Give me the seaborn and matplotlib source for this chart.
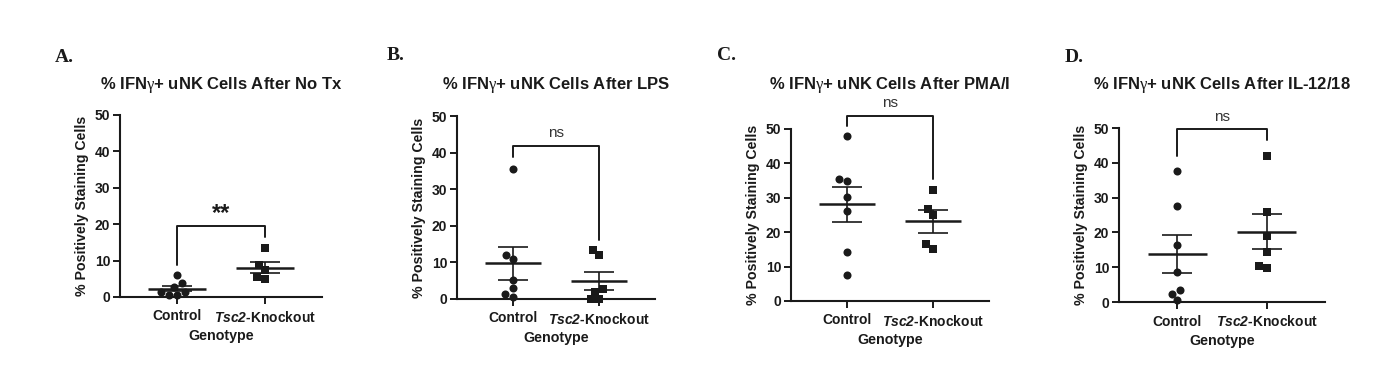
import numpy as np
import pandas as pd
import matplotlib
matplotlib.use("Agg")
import matplotlib.pyplot as plt
import seaborn as sns

# ---------------- data ----------------
categories = ["Control", "Tsc2-Knockout"]
tick_labels = ["Control", r"$\mathrm{Tsc2}$-Knockout"]
panel_letters = ["A.", "B.", "C.", "D."]
titles = [
    r"% IFN$\mathsf{\gamma}$+ uNK Cells After No Tx",
    r"% IFN$\mathsf{\gamma}$+ uNK Cells After LPS",
    r"% IFN$\mathsf{\gamma}$+ uNK Cells After PMA/I",
    r"% IFN$\mathsf{\gamma}$+ uNK Cells After IL-12/18",
]

a_control = [0.6, 6.0, 2.7, 1.3, 3.8, 1.3, 0.6]
a_knockout = [13.5, 8.9, 7.3, 4.9, 5.5]
b_control = [35.4, 11.9, 10.8, 5.2, 3.0, 0.5, 1.4]
b_knockout = [13.3, 11.9, 0.0, 1.9, 2.6, 0.0]
c_control = [47.9, 35.0, 35.5, 30.2, 26.1, 14.2, 7.7]
c_knockout = [32.4, 26.8, 25.0, 15.1, 16.5]
d_control = [37.7, 27.6, 16.5, 8.5, 3.4, 2.4, 0.5]
d_knockout = [42.0, 26.0, 18.9, 14.4, 9.7, 10.4]

# significance brackets: top, left leg end, right leg end, label
bracket_top = [19.5, 41.8, 53.9, 49.6]
bracket_left = [8.8, 38.9, 51.0, 41.9]
bracket_right = [16.5, 16.0, 35.4, 46.5]
bracket_label = ["**", "ns", "ns", "ns"]

y_ticks = [0, 10, 20, 30, 40, 50]

controls = [a_control, b_control, c_control, d_control]
knockouts = [a_knockout, b_knockout, c_knockout, d_knockout]

# ---------------- style ----------------
sns.set_theme(style="ticks")
plt.rcParams["font.family"] = ["Liberation Sans", "DejaVu Sans"]
plt.rcParams["mathtext.fontset"] = "custom"
plt.rcParams["mathtext.rm"] = "Liberation Sans:italic:bold"
plt.rcParams["mathtext.it"] = "Liberation Sans:italic:bold"
plt.rcParams["mathtext.sf"] = "Liberation Serif"
plt.rcParams["mathtext.bf"] = "Liberation Sans:bold"

W, H = 1379, 382
fig = plt.figure(figsize=(W / 100, H / 100), dpi=100)

# axes boxes in pixels: left, right, top, bottom
boxes = [(120, 322, 115, 297), (457, 655, 116, 299),
         (791, 989, 129, 301), (1119, 1325, 128, 302)]
letter_pos = [(55, 58), (387, 56), (717, 56), (1065, 57)]

ink = "#1a1a1a"

for i in range(4):
    l, r, t, b = boxes[i]
    ax = fig.add_axes([l / W, 1 - b / H, (r - l) / W, (b - t) / H])
    df = pd.DataFrame({
        "Genotype": [categories[0]] * len(controls[i]) + [categories[1]] * len(knockouts[i]),
        "Value": list(controls[i]) + list(knockouts[i]),
    })
    for cat, mk in zip(categories, ["o", "s"]):
        sub = df[df["Genotype"] == cat]
        sns.swarmplot(data=sub, x="Genotype", y="Value", order=categories,
                      marker=mk, color=ink, size=5.8, ax=ax, clip_on=False,
                      zorder=3, linewidth=0)
    # mean +/- SEM
    for xi, vals in enumerate([controls[i], knockouts[i]]):
        v = np.asarray(vals, dtype=float)
        m = v.mean()
        se = v.std(ddof=1) / np.sqrt(len(v))
        ax.errorbar([xi], [m], yerr=[se], fmt="none", ecolor=ink,
                    elinewidth=1.2, capsize=10.5, capthick=1.2, zorder=4)
        ax.hlines(m, xi - 0.33, xi + 0.33, colors=ink, linewidth=1.8, zorder=4)
    # significance bracket
    ax.plot([0, 0, 1, 1], [bracket_left[i], bracket_top[i], bracket_top[i], bracket_right[i]],
            color=ink, linewidth=1.4, clip_on=False, zorder=2)
    lab = bracket_label[i]
    if lab == "**":
        ax.annotate(lab, (0.5, bracket_top[i]), xytext=(0, 1), textcoords="offset points",
                    ha="center", va="bottom", fontsize=17, fontweight="bold", color=ink,
                    annotation_clip=False)
    else:
        ax.annotate(lab, (0.5, bracket_top[i]), xytext=(0, 4), textcoords="offset points",
                    ha="center", va="bottom", fontsize=11, color="#333333",
                    annotation_clip=False)

    ax.set_xlim(-0.65, 1.65)
    ax.set_ylim(0, 50)
    ax.set_yticks(y_ticks)
    ax.set_xticks([0, 1])
    ax.set_xticklabels(tick_labels)
    for s in ["top", "right"]:
        ax.spines[s].set_visible(False)
    for s in ["left", "bottom"]:
        ax.spines[s].set_linewidth(1.5)
        ax.spines[s].set_color(ink)
    ax.tick_params(axis="both", length=5, width=1.4, color=ink, labelsize=10,
                   labelcolor=ink, pad=2)
    ax.tick_params(axis="x", pad=4)
    for lbl in ax.get_xticklabels() + ax.get_yticklabels():
        lbl.set_fontweight("bold")
    ax.set_xlabel("Genotype", fontsize=10.3, fontweight="bold", color=ink, labelpad=3)
    ax.set_ylabel("% Positively Staining Cells", fontsize=10.2, fontweight="bold",
                  color=ink, labelpad=4)
    ax.set_facecolor("white")

    cx = (l + r) / 2 / W
    fig.text(cx, 1 - 85 / H, titles[i], ha="center", va="center", fontsize=12,
             fontweight="bold", color=ink)
    lx, ly = letter_pos[i]
    fig.text(lx / W, 1 - ly / H, panel_letters[i], ha="left", va="center",
             fontsize=14, fontweight="bold", family="Liberation Serif", color=ink)

fig.savefig("out.png", dpi=100, facecolor="white")
